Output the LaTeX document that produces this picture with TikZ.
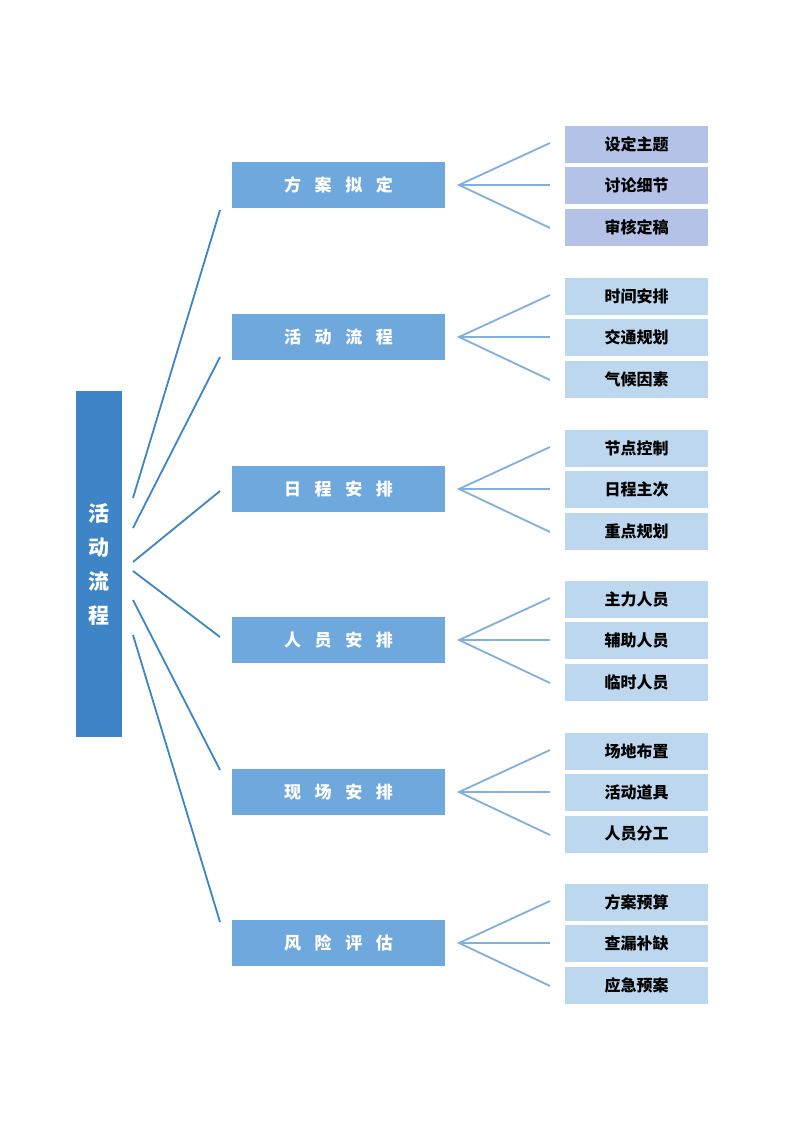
\documentclass[tikz,border=0pt]{standalone}
\usepackage{fontspec}
\newfontfamily\cjk{Noto Sans CJK SC}
\definecolor{rootc}{HTML}{3D85C6}
\definecolor{midc}{HTML}{6FA8DC}
\definecolor{leafa}{HTML}{B4C2E8}
\definecolor{leafb}{HTML}{BDD7EE}
\definecolor{linec}{HTML}{3D85C6}
\definecolor{linel}{HTML}{7FB0DE}
\begin{document}
\begin{tikzpicture}[x=1pt,y=-1pt,
 rootbox/.style={fill=rootc,minimum width=46pt,minimum height=346pt,inner sep=0pt,text=white,font=\cjk\bfseries\fontsize{21}{34}\selectfont,align=center},
 midbox/.style={fill=midc,minimum width=213pt,minimum height=46pt,inner sep=0pt,text=white,font=\cjk\bfseries\fontsize{17}{20}\selectfont},
 leafbox/.style={fill=leafb,minimum width=143pt,minimum height=37pt,inner sep=0pt,text=black,font=\cjk\bfseries\fontsize{16}{18}\selectfont},
 rl/.style={draw=linec,line width=1.8pt},
 ll/.style={draw=linel,line width=1.8pt}]
\useasboundingbox (0,0) rectangle (800,1130);
\fill[white] (0,0) rectangle (800,1130);
\node[rootbox] (root) at (99,564) {活\\动\\流\\程};
\foreach \i/\y/\ta/\tb/\tc/\sy/\ey in {
 1/185/设定主题/讨论细节/审核定稿/498/210,
 2/337/时间安排/交通规划/气候因素/528/357,
 3/489/节点控制/日程主次/重点规划/562/491,
 4/640/主力人员/辅助人员/临时人员/571/637,
 5/792/场地布置/活动道具/人员分工/600/770,
 6/943/方案预算/查漏补缺/应急预案/635/922}{
 \ifnum\i=1 \node[midbox] (m\i) at (338.5,\y) {方\hspace{0.8em}案\hspace{0.8em}拟\hspace{0.8em}定};\fi
 \ifnum\i=2 \node[midbox] (m\i) at (338.5,\y) {活\hspace{0.8em}动\hspace{0.8em}流\hspace{0.8em}程};\fi
 \ifnum\i=3 \node[midbox] (m\i) at (338.5,\y) {日\hspace{0.8em}程\hspace{0.8em}安\hspace{0.8em}排};\fi
 \ifnum\i=4 \node[midbox] (m\i) at (338.5,\y) {人\hspace{0.8em}员\hspace{0.8em}安\hspace{0.8em}排};\fi
 \ifnum\i=5 \node[midbox] (m\i) at (338.5,\y) {现\hspace{0.8em}场\hspace{0.8em}安\hspace{0.8em}排};\fi
 \ifnum\i=6 \node[midbox] (m\i) at (338.5,\y) {风\hspace{0.8em}险\hspace{0.8em}评\hspace{0.8em}估};\fi
 \ifnum\i=1 \def\lc{leafa}\else\def\lc{leafb}\fi
 \node[leafbox,fill=\lc] (a\i) at (636.5,\y-41) {\ta};
 \node[leafbox,fill=\lc] (b\i) at (636.5,\y) {\tb};
 \node[leafbox,fill=\lc] (c\i) at (636.5,\y+42) {\tc};
 \coordinate (s\i) at (133,\sy);
 \coordinate (e\i) at (220,\ey);
 \draw[rl] (s\i) -- (e\i);
 \coordinate (f\i) at (459,\y);
 \coordinate (fa\i) at (550,\y-42);
 \coordinate (fb\i) at (550,\y);
 \coordinate (fc\i) at (550,\y+43);
 \draw[ll] (fa\i) -- (f\i) -- (fc\i);
 \draw[ll] (f\i) -- (fb\i);
}
\end{tikzpicture}
\end{document}
